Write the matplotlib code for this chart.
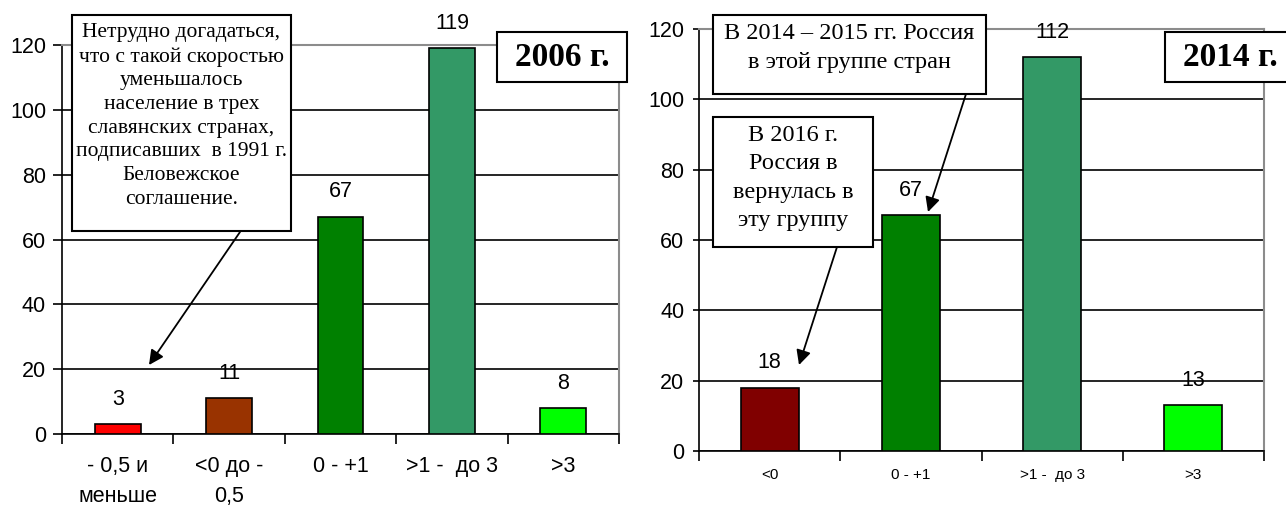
import matplotlib
matplotlib.use('Agg')
import matplotlib.pyplot as plt
from matplotlib.patches import Rectangle, FancyArrowPatch

# data
cats_2006 = ['- 0,5 и\nменьше', '<0 до -\n0,5', '0 - +1', '>1 -  до 3', '>3']
vals_2006 = [3, 11, 67, 119, 8]
colors_2006 = ['#FF0000', '#993300', '#008000', '#339966', '#00FF00']

cats_2014 = ['<0', '0 - +1', '>1 -  до 3', '>3']
vals_2014 = [18, 67, 112, 13]
colors_2014 = ['#800000', '#008000', '#339966', '#00FF00']

yticks = [0, 20, 40, 60, 80, 100, 120]

W, H = 1286, 507
fig = plt.figure(figsize=(W / 100, H / 100), dpi=100)
plt.rcParams['font.family'] = ['Liberation Sans', 'DejaVu Sans']
SERIF = ['Liberation Serif', 'DejaVu Serif']


def fx(px):
    return px / W


def fy(py):
    # pixel from top -> figure fraction
    return 1 - py / H


def make_axes(left, right, y0, y120):
    return fig.add_axes([fx(left), fy(y0), fx(right - left), (y0 - y120) / H])


def draw_chart(ax, cats, vals, colors, xlab_size, xlab_pad, ytick_len, ytick_pad, linesp):
    n = len(cats)
    xs = list(range(n))
    ax.bar(xs, vals, width=0.41, color=colors, edgecolor='black', linewidth=1.2, zorder=3)
    for x, v in zip(xs, vals):
        ax.annotate(str(v), (x, v), xytext=(0, 18), textcoords='offset points',
                    ha='center', va='center', fontsize=15.5, zorder=4)
    ax.set_xlim(-0.5, n - 0.5)
    ax.set_ylim(0, 120)
    ax.set_yticks(yticks)
    ax.set_yticklabels([str(t) for t in yticks], fontsize=15.5)
    ax.tick_params(axis='y', length=ytick_len, width=1.2, pad=ytick_pad, direction='out')
    ax.set_xticks([i - 0.5 for i in range(n + 1)])
    ax.set_xticklabels([])
    ax.tick_params(axis='x', which='major', length=7, width=1.2, direction='out')
    ax.set_xticks(xs, minor=True)
    ax.set_xticklabels(cats, minor=True, fontsize=xlab_size)
    ax.tick_params(axis='x', which='minor', length=0, pad=xlab_pad)
    for lab in ax.get_xticklabels(minor=True):
        lab.set_linespacing(linesp)
    ax.yaxis.grid(True, color='black', linewidth=1.2, zorder=0)
    ax.set_axisbelow(True)
    ax.get_ygridlines()[-1].set_visible(False)
    for s in ['left', 'bottom']:
        ax.spines[s].set_color('black')
        ax.spines[s].set_linewidth(1.2)
    for s in ['top', 'right']:
        ax.spines[s].set_color('#8C8C8C')
        ax.spines[s].set_linewidth(1.5)


def box(x0, y0, x1, y1, lw=1.5):
    fig.patches.append(Rectangle((fx(x0), fy(y1)), fx(x1 - x0), (y1 - y0) / H,
                                 transform=fig.transFigure, facecolor='white',
                                 edgecolor='black', linewidth=lw, zorder=5))


def arrow(p0, p1):
    fig.patches.append(FancyArrowPatch((fx(p0[0]), fy(p0[1])), (fx(p1[0]), fy(p1[1])),
                                       transform=fig.transFigure, arrowstyle='-|>',
                                       mutation_scale=22, linewidth=1.3, color='black',
                                       shrinkA=0, shrinkB=0, zorder=6))


ax1 = make_axes(62, 619, 434, 45)
draw_chart(ax1, cats_2006, vals_2006, colors_2006, 15.5, 16, 6.5, 5, 1.55)

ax2 = make_axes(699, 1264, 451, 29)
draw_chart(ax2, cats_2014, vals_2014, colors_2014, 11, 12, 4.5, 6, 1.2)

# callouts
box(72, 15, 291, 231)
fig.text(fx(181.5), fy(116),
         'Нетрудно догадаться,\nчто с такой скоростью\nуменьшалось\nнаселение в трех\n'
         'славянских странах,\nподписавших  в 1991 г.\nБеловежское\nсоглашение.',
         ha='center', va='center', fontsize=15.5, family=SERIF, linespacing=1.33, zorder=7)
arrow((240, 232), (149, 365))

box(497, 32, 627, 82)
fig.text(fx(562), fy(57), '2006 г.', ha='center', va='center', fontsize=24,
         fontweight='bold', family=SERIF, zorder=7)

box(713, 15, 986, 94)
fig.text(fx(849.5), fy(48), 'В 2014 – 2015 гг. Россия\nв этой группе стран',
         ha='center', va='center', fontsize=17.5, family=SERIF, linespacing=1.5, zorder=7)
arrow((966, 94), (928, 212))

box(713, 117, 873, 247)
fig.text(fx(793), fy(178), 'В 2016 г.\nРоссия в\nвернулась в\nэту группу',
         ha='center', va='center', fontsize=17.5, family=SERIF, linespacing=1.47, zorder=7)
arrow((837, 247), (799, 365))

box(1165, 32, 1320, 82)
fig.text(fx(1230), fy(57), '2014 г.', ha='center', va='center', fontsize=24,
         fontweight='bold', family=SERIF, zorder=7)

fig.savefig('out.png', dpi=100)
